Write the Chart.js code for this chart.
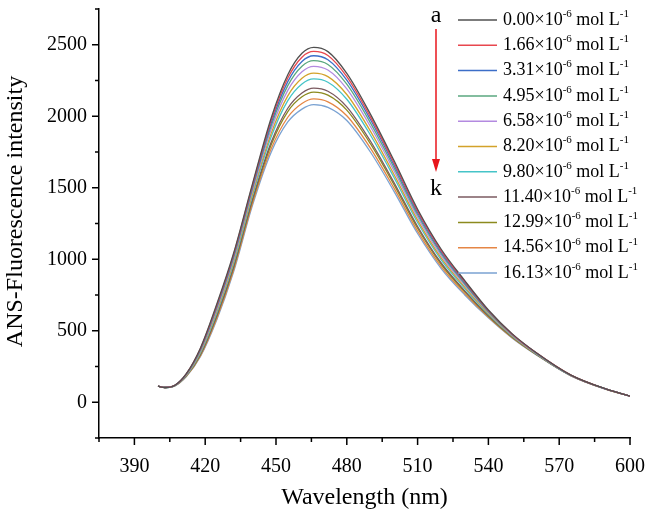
<!DOCTYPE html>
<html>
<head>
<meta charset="utf-8">
<script src="https://cdn.jsdelivr.net/npm/chart.js@4.4.1/dist/chart.umd.min.js"></script>
<style>
  html, body { margin: 0; padding: 0; background: #fff; }
  #wrap { width: 646px; height: 513px; position: relative; }
</style>
</head>
<body>
<div id="wrap"><canvas id="ansChart"></canvas></div>
<script>
// wavelength (nm) of the sampled points
const wavelengths = [400, 403, 407, 412, 418, 425, 432, 440, 448, 455, 461, 466, 472, 480, 490, 500, 510, 520, 530, 540, 550, 560, 575, 590, 600];

// quencher concentrations (x10^-6 mol/L), curves a..k
const concentrations = ['0.00', '1.66', '3.31', '4.95', '6.58', '8.20', '9.80', '11.40', '12.99', '14.56', '16.13'];

// ANS fluorescence intensity
const curveA = [112, 103, 117, 200, 380, 690, 1040, 1525, 1990, 2290, 2440, 2481, 2452, 2300, 2015, 1690, 1350, 1070, 850, 645, 480, 350, 190, 92, 43];
const curveB = [112, 103, 117, 199, 376, 682, 1031, 1515, 1973, 2267, 2413, 2453, 2425, 2277, 1996, 1675, 1338, 1061, 843, 641, 478, 349, 190, 92, 43];
const curveC = [112, 103, 117, 197, 371, 674, 1021, 1503, 1955, 2242, 2383, 2423, 2395, 2252, 1977, 1659, 1325, 1050, 836, 637, 476, 348, 189, 92, 43];
const curveD = [112, 103, 116, 195, 366, 665, 1010, 1491, 1935, 2214, 2350, 2389, 2362, 2224, 1954, 1641, 1311, 1039, 827, 632, 473, 347, 189, 92, 43];
const curveE = [112, 103, 116, 193, 360, 654, 997, 1476, 1911, 2181, 2311, 2349, 2323, 2191, 1928, 1619, 1294, 1025, 817, 627, 470, 345, 188, 91, 43];
const curveF = [112, 103, 116, 191, 353, 641, 982, 1458, 1882, 2142, 2265, 2301, 2277, 2152, 1896, 1593, 1274, 1009, 805, 620, 467, 343, 188, 91, 43];
const curveG = [112, 103, 115, 189, 347, 630, 969, 1443, 1858, 2109, 2226, 2261, 2238, 2119, 1869, 1572, 1257, 996, 795, 615, 464, 342, 187, 91, 43];
const curveH = [112, 103, 115, 186, 337, 612, 948, 1419, 1820, 2056, 2163, 2197, 2175, 2066, 1827, 1537, 1229, 974, 779, 606, 459, 339, 186, 91, 43];
const curveI = [112, 103, 115, 184, 333, 604, 939, 1408, 1803, 2033, 2136, 2169, 2148, 2043, 1808, 1522, 1217, 965, 772, 602, 457, 338, 186, 90, 43];
const curveJ = [112, 103, 114, 182, 326, 591, 923, 1390, 1774, 1993, 2089, 2121, 2101, 2003, 1777, 1497, 1197, 949, 760, 596, 453, 337, 186, 90, 43];
const curveK = [112, 103, 114, 180, 320, 580, 910, 1375, 1750, 1960, 2050, 2081, 2062, 1970, 1750, 1475, 1180, 935, 750, 590, 450, 335, 185, 90, 43];

const curves = [curveA, curveB, curveC, curveD, curveE, curveF, curveG, curveH, curveI, curveJ, curveK];
const colors = ['#505050', '#e8474e', '#3c6ec8', '#5aa77f', '#b38ae0', '#d3a22a', '#45c4c8', '#7b5a60', '#8c8a1e', '#e58645', '#7aa2d2'];

const serif = '"Liberation Serif", "Times New Roman", serif';

// legend drawn inside the plot, with real superscripts
const insideLegend = {
  id: 'insideLegend',
  afterDraw(chart) {
    const ctx = chart.ctx;
    ctx.save();
    ctx.textBaseline = 'middle';
    ctx.fillStyle = '#000';
    chart.data.datasets.forEach((ds, i) => {
      const y = 20 + i * 25.3;
      ctx.strokeStyle = ds.borderColor;
      ctx.lineWidth = 1.5;
      ctx.beginPath();
      ctx.moveTo(458, y);
      ctx.lineTo(497, y);
      ctx.stroke();

      let x = 503;
      const parts = [
        [concentrations[i] + '\u00d710', false],
        ['-6', true],
        [' mol L', false],
        ['-1', true],
      ];
      parts.forEach(([txt, sup]) => {
        ctx.font = (sup ? '11px ' : '18px ') + serif;
        ctx.fillText(txt, x, sup ? y - 6 : y);
        x += ctx.measureText(txt).width;
      });
    });

    // a -> k arrow
    ctx.font = '24px ' + serif;
    ctx.textAlign = 'center';
    ctx.textBaseline = 'alphabetic';
    ctx.fillText('a', 436, 22);
    ctx.fillText('k', 436, 195);
    ctx.strokeStyle = '#e8161c';
    ctx.fillStyle = '#e8161c';
    ctx.lineWidth = 1.5;
    ctx.beginPath();
    ctx.moveTo(436, 29);
    ctx.lineTo(436, 162);
    ctx.stroke();
    ctx.beginPath();
    ctx.moveTo(432, 159);
    ctx.lineTo(440, 159);
    ctx.lineTo(436, 172);
    ctx.closePath();
    ctx.fill();
    ctx.restore();
  }
};

// outward ticks, long on labelled values and short in between
const outerTicks = {
  id: 'outerTicks',
  afterDraw(chart) {
    const { ctx, chartArea, scales: { x, y } } = chart;
    ctx.save();
    ctx.strokeStyle = '#000';
    ctx.lineWidth = 1.5;
    ctx.beginPath();
    x.ticks.forEach((t) => {
      const px = x.getPixelForValue(t.value);
      const len = t.value % 30 === 0 ? 7 : 4;
      ctx.moveTo(px, chartArea.bottom);
      ctx.lineTo(px, chartArea.bottom + len);
    });
    y.ticks.forEach((t) => {
      const py = y.getPixelForValue(t.value);
      const len = t.value % 500 === 0 ? 7 : 4;
      ctx.moveTo(chartArea.left, py);
      ctx.lineTo(chartArea.left - len, py);
    });
    ctx.stroke();
    ctx.restore();
  }
};

const datasets = curves.map((c, i) => ({
  label: concentrations[i] + '\u00d710\u207b\u2076 mol L\u207b\u00b9',
  data: wavelengths.map((w, j) => ({ x: w, y: c[j] })),
  borderColor: colors[i],
  backgroundColor: colors[i],
  borderWidth: 1.3,
  pointRadius: 0,
  cubicInterpolationMode: 'monotone',
  fill: false,
}));

new Chart(document.getElementById('ansChart'), {
  type: 'line',
  data: { datasets },
  options: {
    responsive: true,
    maintainAspectRatio: false,
    animation: false,
    layout: { padding: { top: 9, right: 16, bottom: 0, left: 0 } },
    plugins: {
      legend: { display: false },
      tooltip: { enabled: false },
    },
    scales: {
      x: {
        type: 'linear',
        min: 375,
        max: 600,
        grid: { display: true, drawOnChartArea: false, drawTicks: false },
        border: { display: true, color: '#000', width: 1.5 },
        ticks: {
          stepSize: 15,
          maxTicksLimit: 30,
          autoSkip: false,
          maxRotation: 0,
          padding: 17,
          color: '#000',
          font: { family: serif, size: 20 },
          callback: (v) => (v % 30 === 0 ? v : ''),
        },
        title: {
          display: true,
          text: 'Wavelength (nm)',
          color: '#000',
          font: { family: serif, size: 24 },
          padding: { top: 0, bottom: 1 },
        },
        afterFit(scale) {
          scale.height = 75;
          scale.paddingLeft = 0;
          scale.paddingRight = 0;
        },
      },
      y: {
        min: -250,
        max: 2750,
        grid: { display: true, drawOnChartArea: false, drawTicks: false },
        border: { display: true, color: '#000', width: 1.5 },
        ticks: {
          stepSize: 250,
          maxTicksLimit: 30,
          autoSkip: false,
          padding: 12,
          color: '#000',
          font: { family: serif, size: 20 },
          callback: (v) => (v % 500 === 0 ? v : ''),
        },
        title: {
          display: true,
          // leading spaces lift the visible text slightly above the axis centre, as in the original
          text: '\u00a0\u00a0\u00a0\u00a0ANS-Fluorescence intensity',
          color: '#000',
          font: { family: serif, size: 24 },
          padding: { top: 1, bottom: 0 },
        },
        afterFit(scale) {
          scale.width = 99;
          scale.paddingTop = 0;
          scale.paddingBottom = 0;
        },
      },
    },
  },
  plugins: [outerTicks, insideLegend],
});
</script>
</body>
</html>
